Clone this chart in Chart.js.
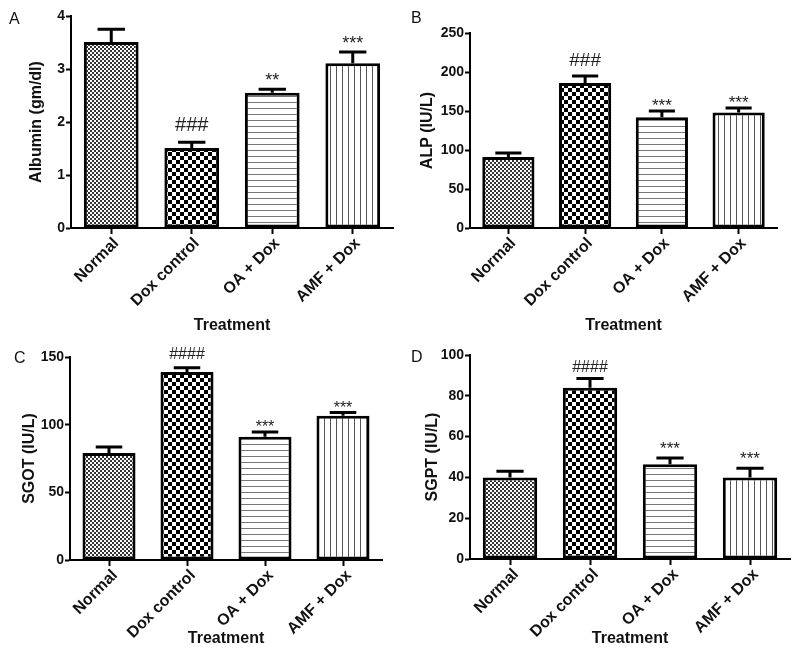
<!DOCTYPE html>
<html>
<head>
<meta charset="utf-8">
<script src="https://cdn.jsdelivr.net/npm/chart.js@4.4.1/dist/chart.umd.min.js"></script>
<style>
  html, body { margin: 0; padding: 0; background: #fff; }
  #wrap { position: relative; width: 800px; height: 658px; overflow: hidden; }
  .panel { position: absolute; }
  .letter { position: absolute; font-family: "Liberation Sans", Arial, sans-serif; font-size: 16px; color: #111; }
</style>
</head>
<body>
<div id="wrap">
  <div class="panel" style="left:0;top:0;width:400px;height:340px"><canvas id="cA"></canvas></div>
  <div class="panel" style="left:400px;top:0;width:400px;height:340px"><canvas id="cB"></canvas></div>
  <div class="panel" style="left:0;top:330px;width:400px;height:328px"><canvas id="cC"></canvas></div>
  <div class="panel" style="left:400px;top:330px;width:400px;height:328px"><canvas id="cD"></canvas></div>
  <div class="letter" style="left:9px;top:10px">A</div>
  <div class="letter" style="left:411px;top:9px">B</div>
  <div class="letter" style="left:14px;top:349px">C</div>
  <div class="letter" style="left:411px;top:348px">D</div>
</div>
<script>
// ---- data ----
const categories = ['Normal', 'Dox control', 'OA + Dox', 'AMF + Dox'];

const albumin    = [3.51, 1.51, 2.55, 3.11];
const albuminErr = [0.24, 0.11, 0.07, 0.21];
const albuminSig = ['', '###', '**', '***'];
const albuminTicks = [0, 1, 2, 3, 4];

const alp    = [91, 186, 142, 148];
const alpErr = [5, 9, 8, 6];
const alpSig = ['', '###', '***', '***'];
const alpTicks = [0, 50, 100, 150, 200, 250];

const sgot    = [79, 139, 91, 106.5];
const sgotErr = [4.5, 3, 3.5, 2.5];
const sgotSig = ['', '####', '***', '***'];
const sgotTicks = [0, 50, 100, 150];

const sgpt    = [40, 84, 46.5, 40];
const sgptErr = [3, 4.5, 3, 4.5];
const sgptSig = ['', '####', '***', '***'];
const sgptTicks = [0, 20, 40, 60, 80, 100];

// ---- patterns ----
function makePattern(w, h, draw) {
  const c = document.createElement('canvas');
  c.width = w; c.height = h;
  const g = c.getContext('2d');
  g.fillStyle = '#fff'; g.fillRect(0, 0, w, h);
  draw(g);
  return g.createPattern(c, 'repeat');
}
const fineChecker = makePattern(4, 4, g => {
  g.fillStyle = '#333'; g.fillRect(0, 0, 2, 2); g.fillRect(2, 2, 2, 2);
});
const coarseChecker = makePattern(8, 8, g => {
  g.fillStyle = '#000'; g.fillRect(0, 0, 4, 4); g.fillRect(4, 4, 4, 4);
});
const hLines = makePattern(6, 6, g => {
  g.fillStyle = '#777'; g.fillRect(0, 0, 6, 1);
});
const vLines = makePattern(6, 6, g => {
  g.fillStyle = '#555'; g.fillRect(0, 0, 1, 6);
});
const fills = [fineChecker, coarseChecker, hLines, vLines];

const FONT = '"Liberation Sans", Arial, Helvetica, sans-serif';

function errPlugin(errors, sig, sigStyle) {
  return {
    id: 'errbars',
    afterDatasetsDraw(chart) {
      const ctx = chart.ctx;
      const meta = chart.getDatasetMeta(0);
      const ys = chart.scales.y;
      const vals = chart.data.datasets[0].data;
      meta.data.forEach((bar, i) => {
        const yTop = ys.getPixelForValue(vals[i] + errors[i]);
        const capW = bar.width * 0.5;
        ctx.save();
        ctx.strokeStyle = '#000';
        ctx.lineWidth = 3;
        ctx.beginPath();
        ctx.moveTo(bar.x, bar.y);
        ctx.lineTo(bar.x, yTop);
        ctx.moveTo(bar.x - capW / 2, yTop);
        ctx.lineTo(bar.x + capW / 2, yTop);
        ctx.stroke();
        const s = sig[i];
        if (s) {
          const isHash = s[0] === '#';
          const size = isHash ? sigStyle.hashSize : sigStyle.starSize;
          ctx.font = size + 'px ' + FONT;
          ctx.fillStyle = '#222';
          ctx.textAlign = 'center';
          ctx.textBaseline = 'alphabetic';
          const gap = isHash ? sigStyle.hashGap : sigStyle.starGap;
          const base = isHash ? yTop - 1.5 - gap : yTop - 1.5 - gap + 0.43 * size;
          ctx.fillText(s, bar.x, base);
        }
        ctx.restore();
      });
    }
  };
}

function makeChart(id, values, errors, sig, ticks, yTitle, geom, sigStyle) {
  const canvas = document.getElementById(id);
  const W = geom.W, H = geom.H;
  return new Chart(canvas, {
    type: 'bar',
    data: {
      labels: categories,
      datasets: [{
        data: values,
        backgroundColor: fills,
        borderColor: '#000',
        borderWidth: 3,
        borderSkipped: false,
        barPercentage: 0.68,
        categoryPercentage: 1.0
      }]
    },
    plugins: [errPlugin(errors, sig, sigStyle)],
    options: {
      responsive: true,
      maintainAspectRatio: false,
      animation: false,
      devicePixelRatio: 1,
      layout: { padding: { left: 0, top: geom.top, right: W - geom.right, bottom: 0 } },
      plugins: { legend: { display: false }, tooltip: { enabled: false } },
      scales: {
        x: {
          offset: true,
          grid: { display: true, offset: false, drawOnChartArea: false, drawTicks: true, tickLength: 6, tickWidth: 2, tickColor: '#000' },
          border: { display: true, color: '#000', width: 2 },
          ticks: { color: '#111', font: { family: FONT, size: 16, weight: 'bold' }, minRotation: 45, maxRotation: 45, autoSkip: false, padding: geom.xTickPad, labelOffset: geom.xLabelOffset },
          title: { display: true, text: 'Treatment', color: '#111', font: { family: FONT, size: 16, weight: 'bold', lineHeight: 1.2 }, padding: { top: 0, bottom: geom.xTitlePad } },
          afterFit: s => { s.height = H - geom.bottom; }
        },
        y: {
          min: ticks[0],
          max: ticks[ticks.length - 1],
          afterBuildTicks: s => { s.ticks = ticks.map(v => ({ value: v })); },
          grid: { display: true, drawOnChartArea: false, drawTicks: true, tickLength: 5, tickWidth: 2, tickColor: '#000' },
          border: { display: true, color: '#000', width: 2 },
          ticks: { color: '#111', font: { family: FONT, size: 14, weight: 'bold' }, padding: 1 },
          title: { display: true, text: yTitle, color: '#111', font: { family: FONT, size: 16, weight: 'bold', lineHeight: 1.2 }, padding: { top: geom.yTitleX - 9.6, bottom: 0 } },
          afterFit: s => { s.width = geom.left; }
        }
      }
    }
  });
}

makeChart('cA', albumin, albuminErr, albuminSig, albuminTicks, 'Albumin (gm/dl)',
  { W: 400, H: 340, left: 71, top: 16, right: 393, bottom: 228, xTitlePad: 4.4, yTitleX: 37, xTickPad: 0, xLabelOffset: 5 },
  { hashSize: 20, starSize: 18, hashGap: 10, starGap: 9 });
makeChart('cB', alp, alpErr, alpSig, alpTicks, 'ALP (IU/L)',
  { W: 400, H: 340, left: 70, top: 33, right: 377, bottom: 228, xTitlePad: 4.4, yTitleX: 28, xTickPad: 0, xLabelOffset: 5 },
  { hashSize: 19, starSize: 17, hashGap: 8, starGap: 6 });
makeChart('cC', sgot, sgotErr, sgotSig, sgotTicks, 'SGOT (IU/L)',
  { W: 400, H: 328, left: 70, top: 27, right: 382, bottom: 230, xTitlePad: 9.4, yTitleX: 30, xTickPad: 0, xLabelOffset: 6 },
  { hashSize: 16, starSize: 16, hashGap: 7, starGap: 5 });
makeChart('cD', sgpt, sgptErr, sgptSig, sgptTicks, 'SGPT (IU/L)',
  { W: 400, H: 328, left: 70, top: 25, right: 390, bottom: 229, xTitlePad: 9.4, yTitleX: 33, xTickPad: 0, xLabelOffset: 6 },
  { hashSize: 16, starSize: 17, hashGap: 5, starGap: 10 });
</script>
</body>
</html>
